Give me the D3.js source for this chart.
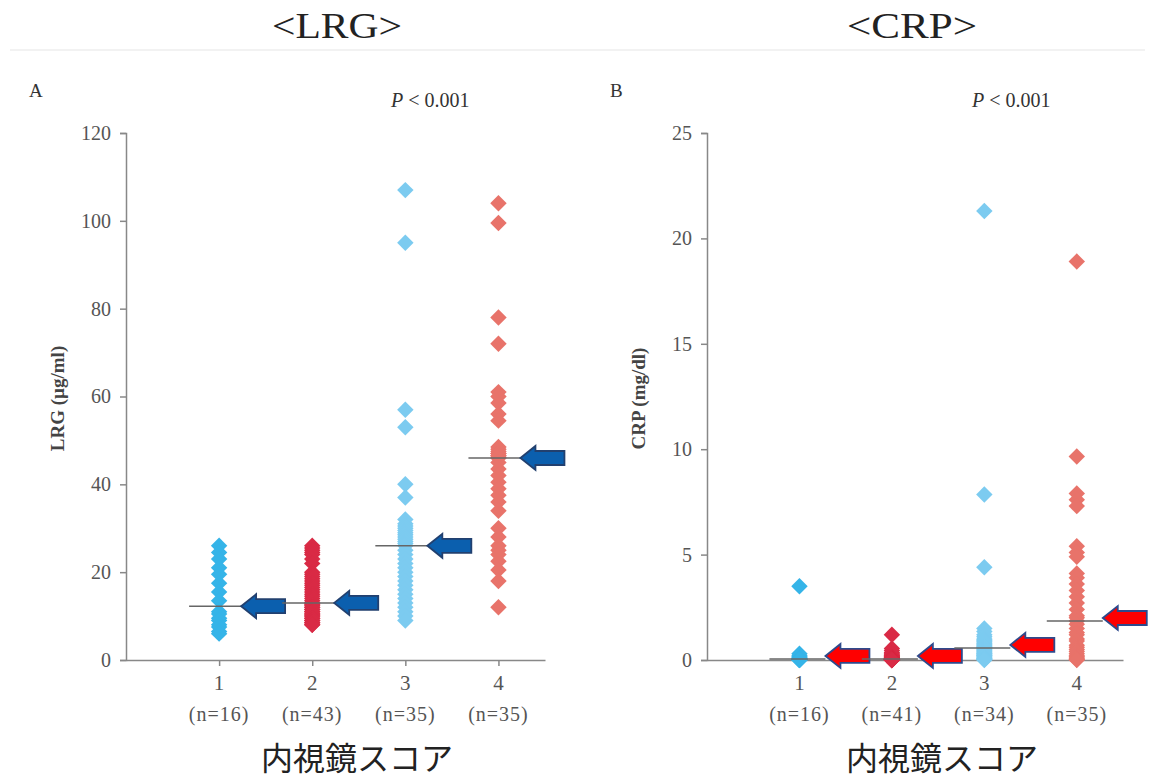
<!DOCTYPE html>
<html>
<head>
<meta charset="utf-8">
<script src="https://cdn.jsdelivr.net/npm/d3@7"></script>
<style>
  body { margin: 0; background: #fff; }
  svg { display: block; }
</style>
</head>
<body>
<svg id="chart" width="1157" height="782"></svg>
<script>
// endoscopic score groups
const scores = [1, 2, 3, 4];
const lrgCounts = [16, 43, 35, 35];
const crpCounts = [16, 41, 34, 35];
const lrgTicks = [0, 20, 40, 60, 80, 100, 120];
const crpTicks = [0, 5, 10, 15, 20, 25];
const groupColors = ["#35b4e8", "#d92a45", "#7ccbf0", "#e8736a"];

// LRG (ug/ml)
const lrg1 = [26, 24.5, 23, 21, 19.5, 17.5, 15.5, 13.5, 11, 10.5, 9.5, 9, 8, 7.5, 6.5, 6];
const lrg2 = [26, 25.5, 25, 24.5, 24, 23, 22, 20, 19.5, 19, 18.5, 18, 17.5, 17, 16.5, 16, 15.5, 15, 14.5, 14, 13.5,
  13, 13, 12.5, 12.5, 12, 12, 11.5, 11.5, 11, 11, 10.5, 10.5, 10, 10, 9.5, 9.5, 9, 9, 8.5, 8.5, 8, 8];
const lrg3 = [107, 95, 57, 53, 40, 37, 32, 31, 30.5, 30, 29.5, 29, 28.5, 28, 27.5, 27, 26.5, 26,
  25, 24, 23, 22, 21, 20, 19, 18, 17, 16, 15, 14, 13, 12, 11, 10, 9];
const lrg4 = [104, 99.5, 78, 72, 61, 60, 58.5, 56, 54.5, 48.5, 48, 47.5, 47, 47, 46.5, 46.5, 46, 46,
  45, 43.5, 42, 40.5, 39, 37.5, 36, 34, 30, 28, 26, 25, 24, 22.5, 20.5, 18, 12];

// CRP (mg/dl)
const crp1 = [3.5, 0.3, 0.2, 0.15, 0.1, 0.1, 0.05, 0.05, 0.05, 0.03, 0.02, 0.02, 0.01, 0.01, 0, 0];
const crp2 = [1.2, 0.55, 0.45, 0.35, 0.3, 0.25, 0.2, 0.2, 0.15, 0.15, 0.12, 0.1, 0.1, 0.1, 0.08, 0.08, 0.06, 0.06,
  0.05, 0.05, 0.05, 0.05, 0.04, 0.04, 0.03, 0.03, 0.03, 0.02, 0.02, 0.02, 0.02, 0.01, 0.01, 0.01, 0.01, 0, 0, 0, 0, 0, 0];
const crp3 = [21.3, 7.85, 4.4, 1.5, 1.35, 1.2, 1.1, 1.0, 0.95, 0.9, 0.85, 0.8, 0.75, 0.7, 0.65, 0.6, 0.6,
  0.55, 0.5, 0.45, 0.4, 0.35, 0.3, 0.3, 0.25, 0.2, 0.2, 0.15, 0.1, 0.1, 0.05, 0.05, 0.02, 0];
const crp4 = [18.9, 9.65, 7.9, 7.6, 7.3, 5.4, 5.1, 4.9, 4.1, 3.9, 3.6, 3.3, 3.0, 2.7, 2.4, 2.1, 2.0, 1.85,
  1.7, 1.5, 1.3, 1.2, 1.0, 0.9, 0.7, 0.6, 0.5, 0.4, 0.3, 0.2, 0.15, 0.1, 0.05, 0.02, 0];

const serif = "'Liberation Serif', 'DejaVu Serif', serif";
const cjk = "'Noto Sans CJK JP', sans-serif";

const svg = d3.select("#chart");
svg.append("rect").attr("width", 1157).attr("height", 782).attr("fill", "#fff");

// thin line under the titles
svg.append("line")
  .attr("x1", 10).attr("x2", 1145).attr("y1", 50).attr("y2", 50)
  .attr("stroke", "#eeeeee").attr("stroke-width", 1.5);

const diamond = d3.symbol(d3.symbolSquare, 135);

function drawPanel(opt) {
  const x = d3.scaleLinear().domain([0, 4.5]).range([opt.left, opt.right]);
  const y = d3.scaleLinear().domain([0, opt.ymax]).range([660, 133]);

  const g = svg.append("g");

  // title
  svg.append("text")
    .attr("x", opt.titleX).attr("y", 38)
    .attr("text-anchor", "middle")
    .attr("font-family", serif).attr("font-size", 36)
    .attr("textLength", 130).attr("lengthAdjust", "spacingAndGlyphs")
    .attr("fill", "#222")
    .text(opt.title);

  // panel letter
  svg.append("text")
    .attr("x", opt.left - 97).attr("y", 97)
    .attr("font-family", serif).attr("font-size", 19)
    .attr("fill", "#333")
    .text(opt.letter);

  // p value
  const p = svg.append("text")
    .attr("x", opt.left + 265).attr("y", 107)
    .attr("font-family", serif).attr("font-size", 20)
    .attr("fill", "#333");
  p.append("tspan").attr("font-style", "italic").text("P");
  p.append("tspan").text(" < 0.001");

  // y axis
  const yAxis = g.append("g")
    .attr("transform", `translate(${opt.left},0)`)
    .call(d3.axisLeft(y).tickValues(opt.ticks).tickSize(6).tickPadding(9));
  yAxis.selectAll("path, line").attr("stroke", "#888").attr("stroke-width", 1.5);
  yAxis.selectAll("text")
    .attr("font-family", serif).attr("font-size", 20)
    .attr("fill", "#555");

  // y title
  g.append("text")
    .attr("transform", `translate(${opt.left - 62},${y(opt.ymax / 2) + 2}) rotate(-90)`)
    .attr("text-anchor", "middle")
    .attr("font-family", serif).attr("font-size", 19).attr("font-weight", "bold")
    .attr("fill", "#444")
    .text(opt.ytitle);

  // x axis
  const xAxis = g.append("g")
    .attr("transform", "translate(0,660)")
    .call(d3.axisBottom(x).tickValues(scores).tickSize(6).tickSizeOuter(0).tickFormat(""));
  xAxis.selectAll("path, line").attr("stroke", "#888").attr("stroke-width", 1.5);

  // category labels
  scores.forEach((s, i) => {
    g.append("text")
      .attr("x", x(s)).attr("y", 690)
      .attr("text-anchor", "middle")
      .attr("font-family", serif).attr("font-size", 21).attr("fill", "#555")
      .text(s);
    g.append("text")
      .attr("x", x(s)).attr("y", 721)
      .attr("text-anchor", "middle")
      .attr("font-family", serif).attr("font-size", 20).attr("fill", "#555")
      .attr("letter-spacing", 1)
      .text(`(n=${opt.counts[i]})`);
  });

  // x title
  svg.append("text")
    .attr("x", opt.xtitleX).attr("y", 770)
    .attr("text-anchor", "middle")
    .attr("font-family", cjk).attr("font-size", 32)
    .attr("fill", "#222")
    .text("内視鏡スコア");

  // points
  opt.groups.forEach((vals, i) => {
    g.append("g")
      .attr("fill", groupColors[i])
      .selectAll("path")
      .data(vals)
      .join("path")
      .attr("d", diamond)
      .attr("transform", d => `translate(${x(scores[i])},${y(d)}) rotate(45)`);
  });

  // median lines and arrows
  opt.groups.forEach((vals, i) => {
    const cx = x(scores[i]);
    const my = y(d3.median(vals));
    const tip = cx + opt.tipOffset;
    g.append("line")
      .attr("x1", cx - 30).attr("x2", tip)
      .attr("y1", my).attr("y2", my)
      .attr("stroke", "#666").attr("stroke-width", 1.5);
    const ay = my - opt.arrowShift;
    const pts = [[0, 0], [15, -12], [15, -7], [44, -7], [44, 7], [15, 7], [15, 12]]
      .map(([dx, dy]) => [tip + dx, ay + dy]);
    g.append("polygon")
      .attr("points", pts.map(pt => pt.join(",")).join(" "))
      .attr("fill", opt.arrowFill)
      .attr("stroke", opt.arrowStroke)
      .attr("stroke-width", 1.8)
      .attr("stroke-linejoin", "miter");
  });
}

drawPanel({
  left: 126, right: 545, ymax: 120, ticks: lrgTicks,
  title: "<LRG>", titleX: 337, letter: "A", ytitle: "LRG (µg/ml)",
  counts: lrgCounts, xtitleX: 357,
  groups: [lrg1, lrg2, lrg3, lrg4],
  tipOffset: 22, arrowShift: 0,
  arrowFill: "#0b5fae", arrowStroke: "#22406f"
});

drawPanel({
  left: 707, right: 1123, ymax: 25, ticks: crpTicks,
  title: "<CRP>", titleX: 912, letter: "B", ytitle: "CRP (mg/dl)",
  counts: crpCounts, xtitleX: 942,
  groups: [crp1, crp2, crp3, crp4],
  tipOffset: 26, arrowShift: 3,
  arrowFill: "#ff0000", arrowStroke: "#2e4a8c"
});
</script>
</body>
</html>
